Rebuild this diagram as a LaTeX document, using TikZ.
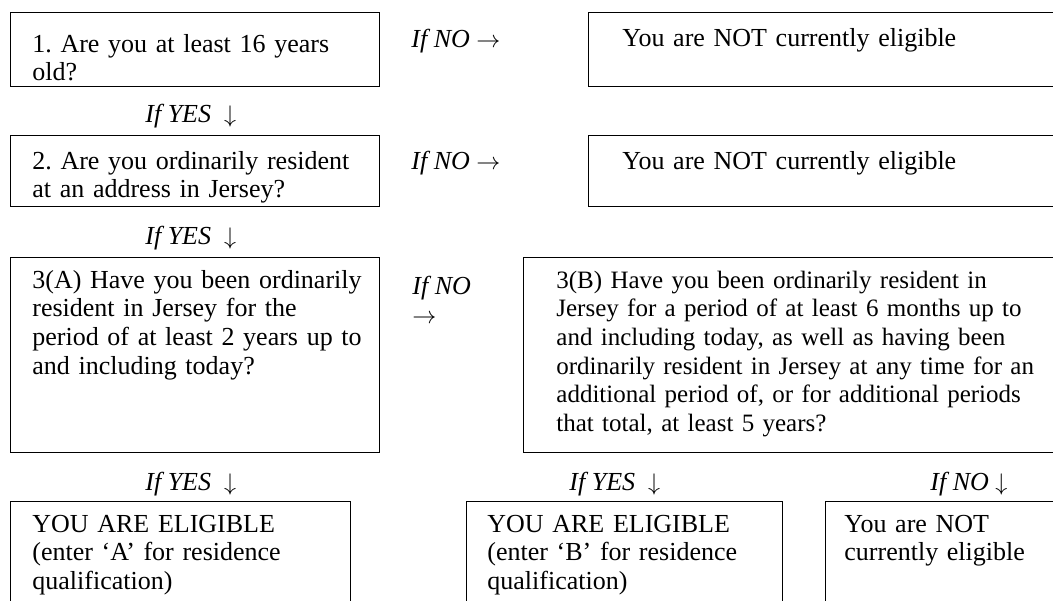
\documentclass[tikz,border=0pt]{standalone}
\usepackage{fontspec}
\setmainfont{Liberation Serif}
\frenchspacing
\tikzset{
  qbox/.style={draw, line width=0.6pt, anchor=north west, inner sep=0pt},
  qtext/.style={anchor=base west, inner sep=0pt, align=left, text width=300pt,
    font=\fontsize{13}{14.35}\selectfont},
  ifnote/.style={anchor=base west, inner sep=0pt, align=left,
    font=\fontsize{13}{14.35}\selectfont},
}
\begin{document}
\begin{tikzpicture}[x=0.5pt,y=-0.5pt]
\useasboundingbox (0,0) rectangle (1053,600);
\clip (0,0) rectangle (1053,600);
% boxes
\node[qbox, minimum width=184.75pt, minimum height=37pt] (q1) at (9.5,12) {};
\node[qbox, minimum width=184.75pt, minimum height=35.5pt] (q2) at (9.5,135) {};
\node[qbox, minimum width=184.75pt, minimum height=97.5pt] (q3a) at (9.5,257) {};
\node[qbox, minimum width=270pt, minimum height=97.5pt] (q3b) at (523,257) {};
\node[qbox, minimum width=237.5pt, minimum height=37pt] (not1) at (588,12) {};
\node[qbox, minimum width=237.5pt, minimum height=35.5pt] (not2) at (588,135) {};
\node[qbox, minimum width=170.25pt, minimum height=55pt] (eligA) at (9.5,501) {};
\node[qbox, minimum width=158.25pt, minimum height=55pt] (eligB) at (465.5,501) {};
\node[qbox, minimum width=120pt, minimum height=55pt] (not3) at (824.5,501) {};
% texts
\node[qtext] (q1txt) at (32,52) {1. Are you at least 16 years\\old?};
\node[qtext] (q2txt) at (32,169) {2. Are you ordinarily resident\\at an address in Jersey?};
\node[qtext] (q3atxt) at (32,288) {3(A) Have you been ordinarily\\resident in Jersey for the\\period of at least 2 years up to\\and including today?};
\node[qtext, font=\fontsize{12.5}{14.35}\selectfont] (q3btxt) at (556,288) {3(B) Have you been ordinarily resident in\\Jersey for a period of at least 6 months up to\\and including today, as well as having been\\ordinarily resident in Jersey at any time for an\\additional period of, or for additional periods\\that total, at least 5 years?};
\node[qtext] (not1txt) at (622,46) {You are NOT currently eligible};
\node[qtext] (not2txt) at (622,169) {You are NOT currently eligible};
\node[qtext] (eligAtxt) at (32,532) {YOU ARE ELIGIBLE\\(enter ‘A’ for residence\\qualification)};
\node[qtext] (eligBtxt) at (487,532) {YOU ARE ELIGIBLE\\(enter ‘B’ for residence\\qualification)};
\node[qtext] (not3txt) at (844,532) {You are NOT\\currently eligible};
% if yes / if no
\node[ifnote] (yes1) at (145,122) {\textit{If YES}\hspace{0.5em}$\downarrow$};
\node[ifnote] (yes2) at (145,244) {\textit{If YES}\hspace{0.5em}$\downarrow$};
\node[ifnote] (yesA) at (145,490) {\textit{If YES}\hspace{0.5em}$\downarrow$};
\node[ifnote] (yesB) at (569,490) {\textit{If YES}\hspace{0.5em}$\downarrow$};
\node[ifnote] (noC) at (930,490) {\textit{If NO} $\downarrow$};
\node[ifnote] (no1) at (411,47) {\textit{If NO} $\rightarrow$};
\node[ifnote] (no2) at (411,169) {\textit{If NO} $\rightarrow$};
\node[ifnote] (no3) at (412,323.5) {\textit{If NO}\\$\rightarrow$};
\end{tikzpicture}
\end{document}
